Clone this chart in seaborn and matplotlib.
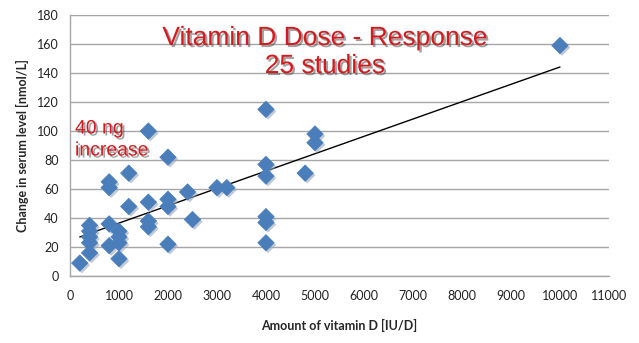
import matplotlib
matplotlib.use("Agg")
import matplotlib.pyplot as plt
import matplotlib.patheffects as pe
from matplotlib import font_manager
import numpy as np
import pandas as pd
import seaborn as sns

# Daily vitamin D dose (IU/D) and the resulting change in serum level (nmol/L)
dose = [200,
        400, 400, 400, 400, 400,
        800, 800, 800, 800,
        1000, 1000, 1000, 1000,
        1200, 1200,
        1600, 1600, 1600, 1600,
        2000, 2000, 2000, 2000,
        2400, 2500, 3000, 3200,
        4000, 4000, 4000, 4000, 4000, 4000,
        4800, 5000, 5000,
        10000]
change = [9,
          35, 31, 27, 23, 16,
          65, 61, 36, 21,
          31, 27, 23, 12,
          71, 48,
          100, 51, 38, 34,
          82, 53, 48, 22,
          58, 39, 61, 61,
          115, 77, 69, 41, 37, 23,
          71, 98, 92,
          159]

x_ticks = list(range(0, 11001, 1000))
y_ticks = list(range(0, 181, 20))

df = pd.DataFrame({"dose": dose, "change": change})

sns.set_style("white")
plt.rcParams["font.family"] = ["Lato", "DejaVu Sans"]

annot_family = ["Liberation Sans", "DejaVu Sans"]

fig = plt.figure(figsize=(6.39, 3.43), dpi=100)
ax = fig.add_axes([0.1095, 0.195, 0.8435, 0.761])

ax.grid(axis="y", color="#a6a6a6", linewidth=1.0)
ax.set_axisbelow(True)

sns.regplot(data=df, x="dose", y="change", scatter=False, ci=None, ax=ax,
            line_kws={"color": "black", "linewidth": 1.0, "zorder": 3})

sns.scatterplot(data=df, x="dose", y="change", marker="D", s=70,
                color="#4a7ebb", edgecolor="#4a7ebb", linewidth=0.5,
                ax=ax, zorder=4)
for coll in ax.collections:
    coll.set_path_effects([pe.SimplePatchShadow(offset=(1.5, -1.5),
                                                shadow_rgbFace="#9aa6b8",
                                                alpha=0.6),
                           pe.Normal()])

ax.set_xlim(0, 11000)
ax.set_ylim(0, 180)
ax.set_xticks(x_ticks)
ax.set_yticks(y_ticks)
ax.tick_params(axis="both", labelsize=9, colors="#222222", length=4,
               direction="out", width=0.8, color="#a6a6a6")
ax.tick_params(axis="x", pad=6)
ax.tick_params(axis="y", pad=4)

for side in ("top", "right"):
    ax.spines[side].set_visible(False)
for side in ("left", "bottom"):
    ax.spines[side].set_color("#a6a6a6")
    ax.spines[side].set_linewidth(1.0)

ax.set_xlabel("Amount of vitamin D [IU/D]", fontsize=9, fontweight="bold",
              labelpad=12)
ax.set_ylabel("Change in serum level [nmol/L]", fontsize=9, fontweight="bold",
              labelpad=6)

shadow = [pe.withSimplePatchShadow(offset=(1.5, -1.5), shadow_rgbFace="#444444",
                                   alpha=0.5)]
red = "#d51a1f"
fig.text(325 / 639, 1 - 38 / 343, "Vitamin D Dose - Response", color=red,
         fontsize=19, ha="center", va="center", family=annot_family,
         path_effects=shadow)
fig.text(325 / 639, 1 - 66 / 343, "25 studies", color=red,
         fontsize=19, ha="center", va="center", family=annot_family,
         path_effects=shadow)
fig.text(75 / 639, 1 - 129 / 343, "40 ng", color=red, fontsize=14,
         ha="left", va="center", family=annot_family, path_effects=shadow)
fig.text(75 / 639, 1 - 151 / 343, "increase", color=red, fontsize=14,
         ha="left", va="center", family=annot_family, path_effects=shadow)

fig.savefig("out.png", dpi=100)
